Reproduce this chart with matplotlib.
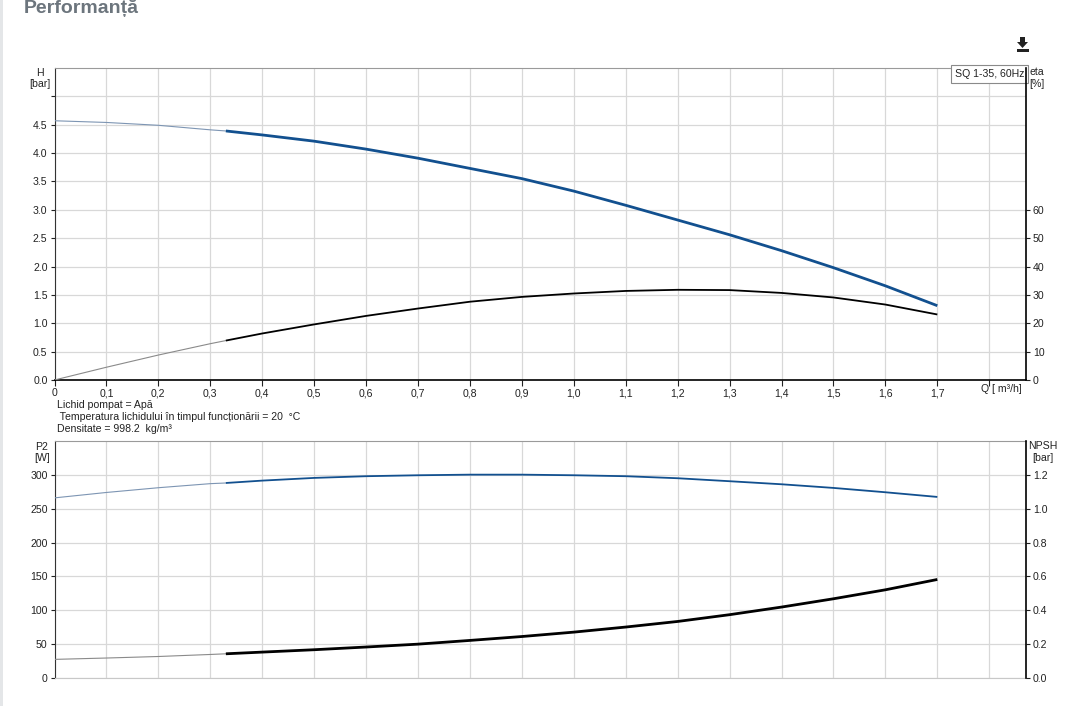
import matplotlib
matplotlib.use('Agg')
import matplotlib.pyplot as plt
from matplotlib.patches import Polygon, Rectangle

plt.rcParams['font.family'] = ['Liberation Sans', 'DejaVu Sans']

# Data (flow in m3/h)
q = [0, 0.1, 0.2, 0.3, 0.33, 0.4, 0.5, 0.6, 0.7, 0.8, 0.9, 1.0, 1.1, 1.2, 1.3, 1.4, 1.5, 1.6, 1.7]
head = [4.57, 4.54, 4.49, 4.41, 4.39, 4.32, 4.21, 4.07, 3.91, 3.73, 3.55, 3.33, 3.08, 2.82, 2.56, 2.28, 1.98, 1.66, 1.31]
eta = [0, 4.5, 8.8, 12.8, 13.9, 16.4, 19.6, 22.6, 25.2, 27.6, 29.3, 30.5, 31.4, 31.8, 31.7, 30.7, 29.1, 26.6, 23.1]
p2 = [266, 274, 281, 287, 288, 291.5, 295.5, 298, 299.4, 300.3, 300.3, 299.4, 298, 295, 290.6, 286.1, 280.7, 274.3, 267.4]
npsh = [0.110, 0.118, 0.127, 0.139, 0.143, 0.153, 0.167, 0.183, 0.200, 0.222, 0.245, 0.271, 0.301, 0.334, 0.374, 0.419, 0.468, 0.521, 0.582]
duty_start = 4  # index where the thick (operating range) part starts

q_ticks = [0, 0.1, 0.2, 0.3, 0.4, 0.5, 0.6, 0.7, 0.8, 0.9, 1.0, 1.1, 1.2, 1.3, 1.4, 1.5, 1.6, 1.7, 1.8]
q_labels = ['0', '0,1', '0,2', '0,3', '0,4', '0,5', '0,6', '0,7', '0,8', '0,9', '1,0',
            '1,1', '1,2', '1,3', '1,4', '1,5', '1,6', '1,7', '']
h_ticks = [0, 0.5, 1.0, 1.5, 2.0, 2.5, 3.0, 3.5, 4.0, 4.5, 5.0]
h_labels = ['0.0', '0.5', '1.0', '1.5', '2.0', '2.5', '3.0', '3.5', '4.0', '4.5', '']
eta_ticks = [0, 10, 20, 30, 40, 50, 60]
p2_ticks = [0, 50, 100, 150, 200, 250, 300]
npsh_ticks = [0, 0.2, 0.4, 0.6, 0.8, 1.0, 1.2]

W, H = 1074, 706
BLUE = '#12508f'
BLUE_THIN = '#7d95b3'
GRID = '#d8d8d8'
TXT = '#222222'
FS = 7.6


def fx(px):
    return px / W


def fy(py):
    return 1 - py / H


fig = plt.figure(figsize=(W / 100, H / 100), dpi=100)

ax1 = fig.add_axes([fx(54.5), fy(380), (1026 - 54.5) / W, (380 - 68) / H])
ax1r = ax1.twinx()
ax2 = fig.add_axes([fx(54.5), fy(678), (1026 - 54.5) / W, (678 - 441) / H])
ax2r = ax2.twinx()

xmax = (1026 - 54.7) / 519.2

# ---- top chart: head + efficiency
ax1.plot(q[:duty_start + 1], head[:duty_start + 1], color=BLUE_THIN, lw=0.8, zorder=3)
ax1.plot(q[duty_start:], head[duty_start:], color=BLUE, lw=2.0, zorder=3, solid_capstyle='butt')
ax1r.plot(q[:duty_start + 1], eta[:duty_start + 1], color='#8a8a8a', lw=0.8, zorder=3)
ax1r.plot(q[duty_start:], eta[duty_start:], color='black', lw=1.3, zorder=3, solid_capstyle='butt')

ax1.set_xlim(0, xmax)
ax1.set_ylim(0, 5.5)
ax1r.set_ylim(0, 110)
ax1.set_xticks(q_ticks)
ax1.set_xticklabels(q_labels)
ax1.set_yticks(h_ticks)
ax1.set_yticklabels(h_labels)
ax1r.set_yticks(eta_ticks)
ax1.text(1.8226, -0.012, 'Q [ m³/h]', transform=ax1.get_xaxis_transform(),
         ha='center', va='top', fontsize=FS, color=TXT)

# ---- bottom chart: P2 + NPSH
ax2.plot(q[:duty_start + 1], p2[:duty_start + 1], color=BLUE_THIN, lw=0.8, zorder=3)
ax2.plot(q[duty_start:], p2[duty_start:], color=BLUE, lw=1.3, zorder=3, solid_capstyle='butt')
ax2r.plot(q[:duty_start + 1], npsh[:duty_start + 1], color='#8a8a8a', lw=0.8, zorder=3)
ax2r.plot(q[duty_start:], npsh[duty_start:], color='black', lw=2.0, zorder=3, solid_capstyle='butt')

ax2.set_xlim(0, xmax)
ax2.set_ylim(0, 350)
ax2r.set_ylim(0, 1.4)
ax2.set_xticks(q_ticks)
ax2.set_xticklabels([])
ax2.set_yticks(p2_ticks)
ax2r.set_yticks(npsh_ticks)
ax2r.set_yticklabels(['%.1f' % v for v in npsh_ticks])

for a in (ax1, ax2):
    a.grid(True, color=GRID, lw=0.9)
    a.set_axisbelow(True)
    a.spines['left'].set_color('#333333')
    a.spines['top'].set_color('#9a9a9a')
    a.spines['right'].set_visible(False)
    a.tick_params(axis='y', length=3, width=0.8, labelsize=FS, colors=TXT, pad=2)
    a.tick_params(axis='x', length=4, width=0.8, labelsize=FS, colors=TXT, pad=2)
ax2.tick_params(axis='x', length=0)
ax1.spines['bottom'].set_color('black')
ax1.spines['bottom'].set_linewidth(1.2)
ax2.spines['bottom'].set_color('#c8c8c8')

for a in (ax1r, ax2r):
    a.spines['right'].set_color('black')
    a.spines['right'].set_linewidth(1.2)
    for s in ('left', 'top', 'bottom'):
        a.spines[s].set_visible(False)
    a.tick_params(axis='y', length=3, width=0.8, labelsize=FS, colors=TXT, pad=2)

# legend-like box
ax1.text(0.9985, 0.997, 'SQ 1-35, 60Hz', transform=ax1.transAxes, ha='right', va='top',
         fontsize=FS, color=TXT, zorder=5,
         bbox=dict(boxstyle='square,pad=0.35', fc='white', ec='#8a8a8a', lw=0.8))

# axis unit labels
fig.text(fx(40), fy(73), 'H', ha='center', va='center', fontsize=FS, color=TXT)
fig.text(fx(40), fy(84), '[bar]', ha='center', va='center', fontsize=FS, color=TXT)
fig.text(fx(1037), fy(72), 'eta', ha='center', va='center', fontsize=FS, color=TXT)
fig.text(fx(1037), fy(84), '[%]', ha='center', va='center', fontsize=FS, color=TXT)
fig.text(fx(42), fy(447), 'P2', ha='center', va='center', fontsize=FS, color=TXT)
fig.text(fx(42), fy(458), '[W]', ha='center', va='center', fontsize=FS, color=TXT)
fig.text(fx(1043), fy(446), 'NPSH', ha='center', va='center', fontsize=FS, color=TXT)
fig.text(fx(1043), fy(458), '[bar]', ha='center', va='center', fontsize=FS, color=TXT)

# liquid info
fig.text(fx(57), fy(405), 'Lichid pompat = Apă', va='center', fontsize=FS, color=TXT)
fig.text(fx(57), fy(417), ' Temperatura lichidului în timpul funcționării = 20  °C',
         va='center', fontsize=FS, color=TXT)
fig.text(fx(57), fy(429), 'Densitate = 998.2  kg/m³', va='center', fontsize=FS, color=TXT)

# page title and frame
fig.text(fx(24), fy(13), 'Performanță', va='baseline', fontsize=14, fontweight='bold',
         color='#6c757d')
fig.add_artist(Rectangle((0, 0), fx(3), 1, transform=fig.transFigure,
                         fc='#e4e6e8', ec='none'))

# download icon
arrow = Polygon([(fx(1020), fy(37)), (fx(1025), fy(37)), (fx(1025), fy(42)), (fx(1028), fy(42)),
                 (fx(1022.5), fy(48)), (fx(1017), fy(42)), (fx(1020), fy(42))],
                closed=True, transform=fig.transFigure, fc='#222222', ec='none')
fig.add_artist(arrow)
fig.add_artist(Rectangle((fx(1016.5), fy(51.5)), 12 / W, 2 / H, transform=fig.transFigure,
                         fc='#222222', ec='none'))

fig.savefig('out.png', dpi=100)
